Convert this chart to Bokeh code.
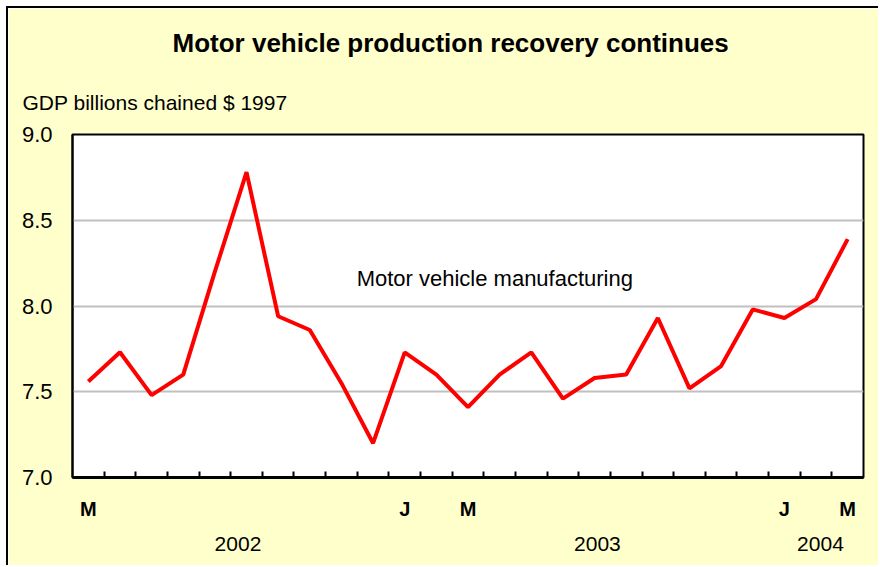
from bokeh.plotting import figure
from bokeh.models import (Range1d, FixedTicker, LinearAxis, Title, Label,
                          PrintfTickFormatter)
from bokeh.embed import file_html
from bokeh.resources import INLINE

# ---- data ----
months = ["M", "A", "M", "J", "J", "A", "S", "O", "N", "D",
          "J", "F", "M", "A", "M", "J", "J", "A", "S", "O", "N", "D",
          "J", "F", "M"]
values = [7.56, 7.73, 7.48, 7.60, 8.20, 8.78, 7.94, 7.86, 7.55, 7.20,
          7.73, 7.60, 7.41, 7.60, 7.73, 7.46, 7.58, 7.60, 7.93, 7.52,
          7.65, 7.98, 7.93, 8.04, 8.39]
shown_month_idx = [0, 10, 12, 22, 24]
years = ["2002", "2003", "2004"]
year_label_pos = [4.73, 16.09, 23.14]
y_ticks = [7.0, 7.5, 8.0, 8.5, 9.0]
series_label = "Motor vehicle manufacturing"
label_pos = (8.48, 8.16)

FONT = "Liberation Sans"
x = list(range(len(values)))

p = figure(width=872, height=559, output_backend="svg", toolbar_location=None,
           x_range=Range1d(-0.5, len(values) - 0.5), y_range=Range1d(7.0, 9.0),
           min_border_left=64, min_border_right=17, min_border_top=126,
           min_border_bottom=90)
p.styles = {"border-top": "2px solid black", "border-left": "2px solid black",
            "margin-left": "6px", "margin-top": "6px"}
p.border_fill_color = "#FFFFCC"
p.background_fill_color = "white"
p.outline_line_color = "black"
p.outline_line_width = 2

p.line(x, values, line_color="#FF0000", line_width=4)

# y axis
ya = p.yaxis[0]
ya.ticker = FixedTicker(ticks=y_ticks)
ya.formatter = PrintfTickFormatter(format="%.1f")
ya.major_tick_out = 0
ya.major_tick_in = 0
ya.minor_tick_out = 0
ya.minor_tick_in = 0
ya.axis_line_color = "black"
ya.axis_line_width = 2
ya.major_label_text_font = FONT
ya.major_label_text_font_size = "22px"
ya.major_label_text_color = "black"
ya.major_label_standoff = 20
p.ygrid.ticker = FixedTicker(ticks=y_ticks)
p.ygrid.grid_line_color = "#C0C0C0"
p.ygrid.grid_line_width = 2
p.xgrid.visible = False

# x axis (months)
xa = p.xaxis[0]
xa.ticker = FixedTicker(ticks=shown_month_idx,
                        minor_ticks=[i + 0.5 for i in range(len(values) - 1)])
xa.major_label_overrides = {i: months[i] for i in shown_month_idx}
xa.major_tick_in = 0
xa.major_tick_out = 0
xa.minor_tick_in = 6
xa.minor_tick_out = 0
xa.minor_tick_line_color = "black"
xa.minor_tick_line_width = 2
xa.axis_line_color = "black"
xa.axis_line_width = 3
xa.major_label_text_font = FONT
xa.major_label_text_font_size = "20px"
xa.major_label_text_font_style = "bold"
xa.major_label_text_color = "black"
xa.major_label_standoff = 20

# year axis
yr = LinearAxis(ticker=FixedTicker(ticks=year_label_pos))
yr.major_label_overrides = {year_label_pos[i]: years[i] for i in range(len(years))}
yr.axis_line_color = None
yr.major_tick_line_color = None
yr.minor_tick_line_color = None
yr.major_label_text_font = FONT
yr.major_label_text_font_size = "21px"
yr.major_label_text_color = "black"
yr.major_label_standoff = 8
p.add_layout(yr, "below")

# titles
p.add_layout(Title(text="GDP billions chained $ 1997", align="left", offset=-50,
                   text_font=FONT, text_font_size="21px",
                   text_font_style="normal", text_color="black", standoff=42),
             "above")
p.add_layout(Title(text="Motor vehicle production recovery continues", align="left",
                   offset=100, text_font=FONT, text_font_size="26px",
                   text_font_style="bold", text_color="black", standoff=19),
             "above")

p.add_layout(Label(x=label_pos[0], y=label_pos[1], text=series_label,
                   text_font=FONT, text_font_size="22px", text_color="black",
                   text_baseline="alphabetic", text_align="left"))

open("out.html", "w").write(file_html(p, INLINE))
